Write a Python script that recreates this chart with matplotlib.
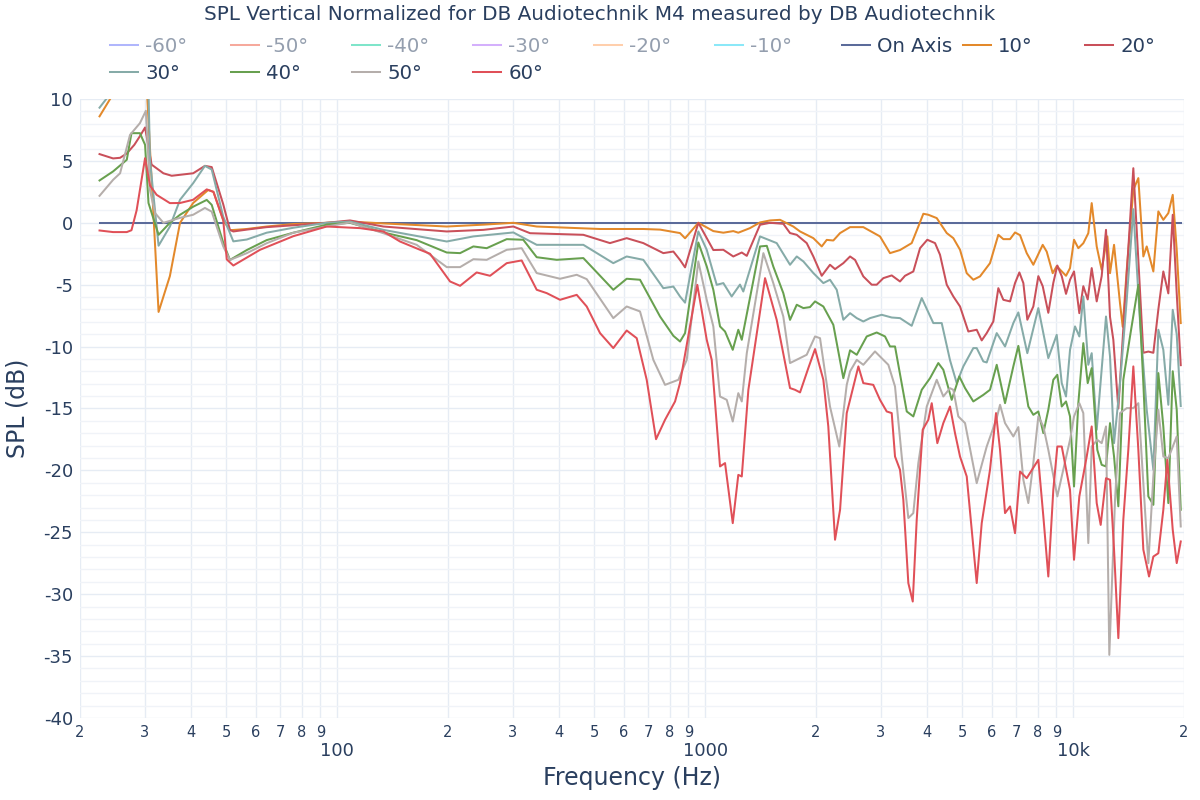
import matplotlib
matplotlib.use("Agg")
import matplotlib.pyplot as plt
from matplotlib.lines import Line2D
from matplotlib.ticker import MultipleLocator

plt.rcParams['font.family'] = ['DejaVu Sans']

TITLE = "SPL Vertical Normalized for DB Audiotechnik M4 measured by DB Audiotechnik"
X_LABEL = "Frequency (Hz)"
Y_LABEL = "SPL (dB)"

hidden_names = ["-60°", "-50°", "-40°", "-30°", "-20°", "-10°"]
hidden_colors = ["#636efa", "#EF553B", "#00cc96", "#ab63fa", "#FFA15A", "#19d3f3"]

names = ["On Axis", "10°", "20°", "30°", "40°", "50°", "60°"]
colors = ["#5b6b9a", "#e3892b", "#c9505a", "#86aba8", "#68a04f", "#b5aeab", "#e05058"]

freq_on = [22.6, 19600]
spl_on = [0.0, 0.0]

freq_10 = [22.6, 24.6, 27.0, 29.5, 30.3, 32.7, 35.1, 37.4, 40.6, 44.6, 46.1, 49.0, 51.1, 56.8, 64.3, 76.0, 93.6,
           108.3, 133.5, 198.4, 249.5, 301, 348.4, 517.8, 678.9, 753.8, 854, 881.5, 957.8, 1052, 1120, 1192, 1230,
           1323, 1409, 1500, 1597, 1665, 1735, 1810, 1887, 1967, 2073, 2139, 2229, 2325, 2475, 2689, 2985, 3178,
           3383, 3640, 3794, 3915, 4039, 4257, 4532, 4723, 4925, 5136, 5352, 5581, 5941, 6259, 6458, 6735, 6948,
           7170, 7475, 7791, 8262, 8472, 8796, 9019, 9559, 9802, 10050, 10325, 10652, 10990, 11226, 11583, 11949,
           12378, 12589, 12910, 13403, 13630, 13977, 14566, 15030, 15507, 15839, 16510, 17034, 17573, 18131,
           18639, 19109, 19596]
spl_10 = [8.6, 10.4, 12.5, 13.5, 11.5, -7.2, -4.3, 0.0, 1.6, 2.65, 2.5, 0.2, -0.6, -0.5, -0.3, -0.1, 0.0,
          0.1, -0.05, -0.3, -0.15, 0.0, -0.3, -0.5, -0.5, -0.55, -0.83, -1.25, 0.0, -0.67, -0.8, -0.67, -0.8,
          -0.43, 0.03, 0.19, 0.24, -0.03, -0.3, -0.7, -0.97, -1.24, -1.91, -1.38, -1.43, -0.83, -0.35, -0.35, -1.1, -2.45,
          -2.2, -1.64, -0.3, 0.73, 0.65, 0.38, -0.83, -1.24, -2.18, -4.07, -4.6, -4.33, -3.26, -0.97, -1.32, -1.32, -0.78,
          -1.0, -2.45, -3.39, -1.78, -2.33, -4.07, -3.5, -4.28, -3.66, -1.37, -2.05, -1.65, -0.84, 1.59, -1.91, -3.8,
          -1.1, -4.07, -1.78, -6.52, -8.4, -3.8, 2.67, 3.61, -2.72, -1.91, -3.93, 0.92, 0.24, 0.78,
          2.26, -2.18, -8.1]

freq_20 = [22.6, 24.6, 25.7, 26.8, 28.1, 29.1, 30.05, 31.3, 33.7, 35.5, 40.6, 43.7, 45.6, 49.0, 51.1, 52.2, 56.8,
           64.3, 76.0, 93.6, 108.3, 133.5, 198.4, 249.5, 301, 334.2, 466.5, 551, 611.8, 678.9, 769.4, 819.3, 854,
           881.5, 957.8, 1052, 1120, 1192, 1257, 1297, 1409, 1500, 1630, 1700, 1773, 1887, 1967, 2073, 2183, 2253,
           2373, 2475, 2554, 2689, 2834, 2924, 3048, 3212, 3383, 3491, 3677, 3835, 4013, 4212, 4345, 4532, 4723,
           4925, 5188, 5467, 5641, 5820, 6066, 6259, 6458, 6735, 6948, 7139, 7320, 7504, 7791, 8039, 8262, 8557,
           8829, 9053, 9307, 9559, 9802, 10050, 10390, 10652, 10949, 11226, 11583, 11949, 12277, 12589, 12853,
           13262, 14566, 15030, 15507, 16000, 16510, 17034, 17573, 18131, 18639, 19109, 19596]
spl_20 = [5.55, 5.2, 5.25, 5.6, 6.3, 7.0, 7.7, 4.7, 4.0, 3.8, 4.0, 4.6, 4.5, 1.5, -0.57, -0.7, -0.55,
          -0.35, -0.2, 0.0, 0.19, -0.3, -0.7, -0.57, -0.3, -0.84, -0.97, -1.64, -1.24, -1.64, -2.45, -2.32, -3.0,
          -3.6, 0.0, -2.2, -2.18, -2.72, -2.4, -2.67, -0.16, 0.0, -0.08, -0.83, -0.97, -1.64, -2.72, -4.28, -3.39, -3.74,
          -3.26, -2.72, -3.0, -4.33, -5.0, -5.0, -4.47, -4.25, -4.74, -4.28, -3.93, -2.05, -1.37, -1.64, -2.58, -5.0, -5.95,
          -6.76, -8.78, -8.64, -9.5, -8.91, -7.97, -5.28, -6.22, -6.35, -4.87, -4.01, -4.87, -7.83, -6.76, -4.31, -5.12, -7.27,
          -4.85, -3.45, -4.31, -5.74, -4.6, -3.93, -7.3, -5.12, -6.19, -3.66, -6.35, -4.31, -0.57, -7.6, -9.45,
          -15.0, 4.41, -3.0, -10.5, -10.4, -10.5, -7.0, -3.93, -5.7, 0.65, -5.7, -11.5]

freq_30 = [22.6, 24.0, 26.8, 29.5, 30.5, 31.0, 32.7, 35.1, 37.4, 40.6, 43.7, 45.6, 49.0, 52.2, 56.8, 64.3, 76.0,
           93.6, 108.3, 133.5, 198.4, 234.4, 301, 348.4, 466.5, 562.6, 611.8, 678.9, 769.4, 819.3, 854, 881.5,
           957.8, 1009.5, 1074.6, 1120, 1180, 1243, 1269, 1409, 1564, 1700, 1773, 1848, 1967, 2094, 2183, 2277,
           2373, 2475, 2581, 2689, 2804, 3017, 3212, 3383, 3640, 3876, 4167, 4392, 4626, 4824, 5028, 5352, 5467,
           5698, 5820, 6196, 6527, 6875, 7094, 7504, 8039, 8557, 9019, 9307, 9559, 9802, 10114, 10390, 10652,
           10990, 11226, 11583, 12277, 12589, 12910, 13403, 13977, 14566, 15190, 15839, 16510, 17034, 17573,
           18131, 18639, 19109, 19596]
spl_30 = [9.3, 10.3, 12.0, 13.0, 14.5, 5.0, -1.85, -0.3, 1.86, 3.2, 4.6, 4.3, 0.5, -1.5, -1.35, -0.8, -0.4,
          0.0, 0.1, -0.57, -1.51, -1.1, -0.78, -1.78, -1.78, -3.26, -2.72, -2.99, -5.28, -5.15, -5.95, -6.45,
          -0.7, -2.18, -5.01, -4.87, -5.95, -4.99, -5.55, -1.1, -1.64, -3.39, -2.72, -3.12, -4.06, -4.87, -4.6, -5.41,
          -7.83, -7.3, -7.7, -7.97, -7.7, -7.43, -7.65, -7.7, -8.32, -6.08, -8.1, -8.1, -11.1, -12.95, -11.6, -10.12, -10.12,
          -11.2, -11.28, -8.91, -9.99, -8.1, -7.24, -10.53, -6.89, -10.93, -9.05, -12.95, -14.03, -10.26, -8.37, -9.18, -5.95,
          -11.47, -10.53, -16.72, -7.57, -10.8, -17.8, -12.95, -6.22, 1.1, -8.0, -15.1, -19.95, -8.64, -10.26,
          -14.7, -7.03, -9.0, -14.8]

freq_40 = [22.6, 24.6, 26.8, 27.6, 29.1, 30.05, 30.7, 32.7, 35.1, 37.4, 40.6, 44.2, 45.6, 49.0, 51.1, 56.8, 64.3,
           76.0, 93.6, 108.3, 133.5, 164.4, 198.4, 215.7, 234.4, 254.8, 288.8, 320.3, 348.4, 395, 466.5, 562.6,
           611.8, 665, 753.8, 819.3, 854.3, 881.5, 957.8, 1009.5, 1052, 1097, 1132, 1188, 1230, 1257, 1409, 1470,
           1531, 1630, 1700, 1773, 1848, 1926, 1988, 2094, 2229, 2373, 2475, 2581, 2747, 2924, 3080, 3178, 3279,
           3529, 3677, 3876, 4082, 4299, 4436, 4675, 4903, 5082, 5352, 5698, 5941, 6196, 6527, 6875, 7094, 7551,
           7791, 8039, 8295, 8557, 8829, 9053, 9307, 9559, 9802, 10050, 10325, 10652, 10949, 11226, 11626, 11949,
           12277, 12589, 12910, 13262, 13681, 14267, 15030, 15507, 16000, 16510, 17034, 17573, 18131, 18639,
           19109, 19596]
spl_40 = [3.42, 4.15, 5.09, 7.24, 7.24, 6.3, 1.6, -0.97, 0.0, 0.65, 1.3, 1.85, 1.45, -1.6, -3.0, -2.2, -1.4,
          -0.8, -0.15, 0.0, -0.78, -1.4, -2.4, -2.45, -1.91, -2.05, -1.32, -1.37, -2.78, -2.99, -2.85, -5.41,
          -4.52, -4.6, -7.57, -9.13, -9.59, -8.91, -1.59, -3.52, -5.41, -8.37, -8.78, -10.26, -8.64, -9.45, -1.91, -1.86,
          -3.53, -5.68, -7.84, -6.62, -6.89, -6.81, -6.35, -6.76, -8.24, -12.55, -10.3, -10.66, -9.18, -8.86, -9.18, -9.99, -9.99,
          -15.24, -15.64, -13.49, -12.55, -11.33, -11.87, -14.3, -12.41, -13.35, -14.43, -13.9, -13.49, -11.47, -14.57, -11.6, -9.94, -14.84,
          -15.51, -15.24, -16.99, -15.1, -12.68, -12.28, -14.84, -14.43, -15.64, -21.3, -14.57, -9.72, -12.95, -11.74, -18.34, -19.55,
          -19.68, -16.18, -18.88, -22.9, -12.68, -9.18, -5.01, -12.95, -22.1, -22.78, -12.14, -16.45, -22.64, -11.99,
          -15.1, -23.18]

freq_50 = [22.6, 24.6, 25.7, 27.35, 29.1, 30.2, 31.0, 32.0, 33.7, 37.4, 40.6, 43.7, 45.6, 49.0, 51.1, 56.8, 64.3,
           76.0, 93.6, 108.3, 133.5, 164.4, 198.4, 215.7, 234.4, 254.8, 288.8, 317.1, 348.4, 403.2, 447.5, 476.4,
           562.6, 611.8, 665, 722.8, 777.7, 845.3, 890.8, 957.8, 1009.5, 1052, 1097, 1144, 1188, 1230, 1257, 1297,
           1439, 1531, 1630, 1700, 1773, 1887, 1988, 2051, 2183, 2314, 2424, 2475, 2581, 2689, 2893, 3048, 3145,
           3279, 3420, 3564, 3677, 3794, 3999, 4257, 4436, 4626, 4723, 4873, 5082, 5467, 5820, 6196, 6326, 6527,
           6875, 7094, 7320, 7551, 7791, 8039, 8295, 8557, 9053, 9307, 9802, 10050, 10390, 10652, 10990, 11226,
           11626, 11949, 12277, 12534, 12990, 13403, 13977, 14566, 15030, 15507, 16000, 16510, 17034, 17573,
           18131, 19109, 19596]
spl_50 = [2.18, 3.47, 4.0, 7.1, 8.05, 9.05, 2.6, 0.78, 0.0, 0.4, 0.65, 1.2, 0.9, -1.9, -3.0, -2.45, -1.65,
          -0.8, -0.3, 0.03, -0.84, -1.78, -3.58, -3.58, -2.94, -2.99, -2.18, -2.05, -4.06, -4.52, -4.2, -4.55,
          -7.7, -6.76, -7.16, -11.07, -13.09, -12.68, -11.07, -3.12, -6.22, -8.37, -14.03, -14.3, -16.05, -13.76, -14.43, -10.53,
          -2.45, -4.87, -7.57, -11.33, -11.06, -10.66, -9.18, -9.32, -14.84, -18.07, -13.09, -12.0, -11.07, -11.47, -10.39, -11.07, -11.47,
          -13.22, -18.88, -23.85, -23.45, -19.41, -14.84, -12.68, -14.03, -13.36, -13.49, -15.64, -16.18, -21.03, -18.07, -15.78, -14.7, -16.18,
          -17.26, -16.5, -20.76, -22.64, -19.41, -15.64, -16.45, -18.34, -22.1, -20.49, -17.53, -15.64, -14.57, -15.37, -25.87, -18.07,
          -17.53, -17.8, -16.45, -34.9, -22.37, -15.37, -14.97, -14.97, -14.57, -21.03, -27.49, -20.49, -15.1, -18.88,
          -19.01, -17.26, -24.53]

freq_60 = [22.6, 24.6, 26.8, 27.6, 28.5, 30.05, 31.0, 32.3, 35.1, 37.4, 40.6, 44.2, 46.1, 49.0, 50.1, 52.2, 61.7,
           76.0, 93.6, 115.3, 133.5, 148.1, 167.9, 178.7, 202.6, 215.7, 239.3, 260.2, 288.8, 317.1, 348.4, 370.9,
           403.2, 447.5, 476.4, 517.8, 562.6, 611.8, 651.4, 693.4, 735.1, 777.7, 828, 854, 951.7, 1009.5, 1041.5,
           1097, 1132, 1188, 1230, 1257, 1310, 1454, 1564, 1700, 1754, 1810, 1906, 1988, 2094, 2160, 2253, 2325,
           2424, 2475, 2607, 2689, 2862, 2985, 3113, 3212, 3279, 3383, 3454, 3564, 3664, 3756, 3899, 4039, 4126,
           4273, 4436, 4626, 4773, 4925, 5136, 5467, 5641, 5941, 6169, 6326, 6527, 6735, 6948, 7170, 7475, 8039,
           8295, 8557, 8829, 9053, 9307, 9802, 10050, 10390, 10881, 11226, 11583, 11875, 12277, 12589, 12910,
           13262, 13681, 14116, 14566, 15030, 15507, 16070, 16510, 17034, 17573, 18019, 18639, 19109, 19596]
spl_60 = [-0.62, -0.75, -0.75, -0.6, 1.0, 5.22, 3.0, 2.26, 1.59, 1.6, 1.86, 2.7, 2.5, 0.24, -2.96, -3.45, -2.18,
          -1.08, -0.3, -0.43, -0.7, -1.51, -2.18, -2.5, -4.74, -5.09, -4.01, -4.28, -3.26, -3.04, -5.41, -5.68,
          -6.22, -5.82, -6.76, -8.91, -10.12, -8.7, -9.32, -12.68, -17.48, -15.91, -14.43, -12.95, -5.01, -9.45, -11.07,
          -19.68, -19.41, -24.26, -20.36, -20.49, -13.49, -4.47, -7.84, -13.35, -13.49, -13.7, -11.74, -10.2, -12.68, -16.45, -25.6, -23.18,
          -15.37, -14.3, -11.6, -12.95, -13.09, -14.3, -15.24, -15.37, -18.88, -19.95, -22.37, -29.1, -30.59, -23.99, -16.72, -15.91, -14.57,
          -17.8, -16.18, -14.84, -16.99, -18.88, -20.49, -29.1, -24.26, -19.95, -15.37, -18.34, -23.45, -22.91, -25.07, -20.09, -20.63, -19.14,
          -23.72, -28.57, -21.57, -18.07, -18.07, -21.57, -27.22, -22.1, -18.88, -16.45, -22.64, -24.4, -20.63, -20.76, -26.4,
          -33.55, -23.99, -18.34, -11.6, -18.34, -26.4, -28.57, -26.96, -26.69, -23.18, -19.14, -24.8, -27.49, -25.74]

series_freq = [freq_on, freq_10, freq_20, freq_30, freq_40, freq_50, freq_60]
series_spl = [spl_on, spl_10, spl_20, spl_30, spl_40, spl_50, spl_60]

major_ticks = [100, 1000, 10000]
major_labels = ["100", "1000", "10k"]
minor_ticks = [20, 30, 40, 50, 60, 70, 80, 90, 200, 300, 400, 500, 600, 700, 800, 900,
               2000, 3000, 4000, 5000, 6000, 7000, 8000, 9000, 20000]
minor_labels = ["2", "3", "4", "5", "6", "7", "8", "9", "2", "3", "4", "5", "6", "7", "8", "9",
                "2", "3", "4", "5", "6", "7", "8", "9", "2"]
y_ticks = [10, 5, 0, -5, -10, -15, -20, -25, -30, -35, -40]

TXT = "#2a3f5f"
GRID = "#e6ecf4"
GRID_MINOR = "#f0f3f8"
LW = 1.45

fig = plt.figure(figsize=(12, 8), dpi=100)
ax = fig.add_axes([80 / 1200, 1 - 718 / 800, 1104 / 1200, 619 / 800])

for f, s, c, n in zip(series_freq, series_spl, colors, names):
    ax.plot(f, s, color=c, lw=LW, label=n, solid_joinstyle='round')

ax.set_xscale('log')
ax.set_xlim(20, 20000)
ax.set_ylim(-40, 10)

ax.set_xticks(major_ticks, labels=major_labels)
ax.set_xticks(minor_ticks, labels=minor_labels, minor=True)
ax.set_yticks(y_ticks, labels=[str(v) for v in y_ticks])
ax.yaxis.set_minor_locator(MultipleLocator(1))

ax.tick_params(axis='x', which='major', length=0, pad=17, labelsize=13, labelcolor=TXT)
ax.tick_params(axis='x', which='minor', length=0, pad=5, labelsize=10.5, labelcolor=TXT)
ax.tick_params(axis='y', which='both', length=0, pad=5, labelsize=13, labelcolor=TXT)

ax.grid(which='major', axis='both', color=GRID, lw=1.0)
ax.grid(which='minor', axis='x', color=GRID, lw=1.0)
ax.grid(which='minor', axis='y', color=GRID_MINOR, lw=1.0)
ax.set_axisbelow(True)
for sp in ax.spines.values():
    sp.set_visible(False)

ax.set_xlabel(X_LABEL, fontsize=17, color=TXT)
ax.xaxis.set_label_coords(0.5, -0.097)
ax.xaxis.label.set_va('center')
ax.set_ylabel(Y_LABEL, fontsize=17, color=TXT)
ax.yaxis.set_label_coords(-0.057, 0.5)
ax.yaxis.label.set_va('center')

fig.text(0.5, 1 - 15 / 800, TITLE, ha='center', va='center', fontsize=14.4, color=TXT)

# Legend: hidden (legend-only) traces plus visible traces
LEG_FS = 14.2
hidden_handles = [Line2D([], [], color=c, lw=LW, alpha=0.5) for c in hidden_colors]
vis_handles = [Line2D([], [], color=c, lw=LW) for c in colors]

# legend A: six columns, row-major order (-60..-10 on top, 30..60 below)
orderA = [(hidden_handles[0], hidden_names[0], True), (vis_handles[3], names[3], False),
          (hidden_handles[1], hidden_names[1], True), (vis_handles[4], names[4], False),
          (hidden_handles[2], hidden_names[2], True), (vis_handles[5], names[5], False),
          (hidden_handles[3], hidden_names[3], True), (vis_handles[6], names[6], False),
          (hidden_handles[4], hidden_names[4], True),
          (hidden_handles[5], hidden_names[5], True)]
leg_kw = dict(loc='upper left', frameon=False, fontsize=LEG_FS, borderpad=0, borderaxespad=0,
              handlelength=1.42, handletextpad=0.36, labelspacing=0.45)
top = 1 - 36.5 / 800
legA = fig.legend([o[0] for o in orderA], [o[1] for o in orderA], ncol=6, columnspacing=2.22,
                  bbox_to_anchor=(110 / 1200, top), **leg_kw)
for t, o in zip(legA.get_texts(), orderA):
    t.set_color(TXT)
    if o[2]:
        t.set_alpha(0.5)

for idx, xpx in zip([0, 1, 2], [842, 963, 1085]):
    lg = fig.legend([vis_handles[idx]], [names[idx]], bbox_to_anchor=(xpx / 1200, top), **leg_kw)
    for t in lg.get_texts():
        t.set_color(TXT)

fig.savefig("out.png", dpi=100, facecolor='white')
